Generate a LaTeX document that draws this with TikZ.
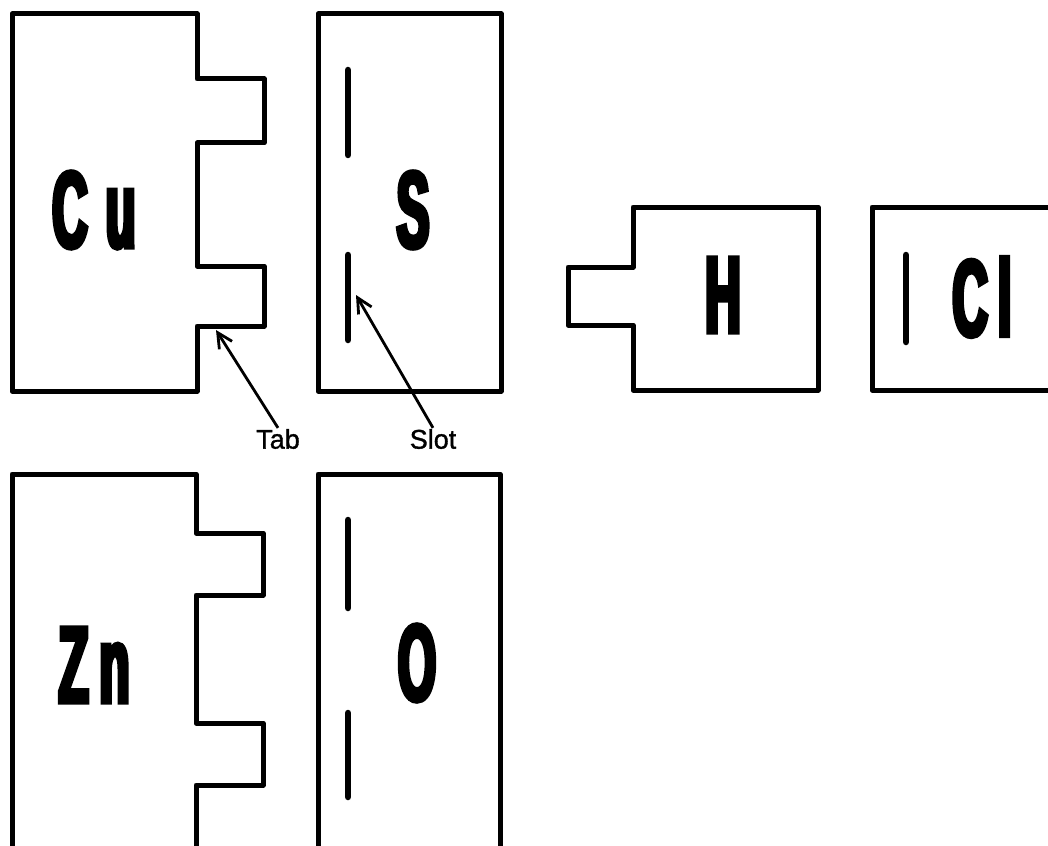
\documentclass[tikz,border=0pt]{standalone}
\usepackage{fontspec}
\usetikzlibrary{arrows.meta}
\newfontfamily\elemfont[FakeStretch=0.45,BoldFeatures={FakeBold=4}]{Liberation Sans}
\newfontfamily\notefont[FakeBold=1.2]{Liberation Sans}

\begin{document}
\begin{tikzpicture}[
  x=1pt, y=-1pt,
  piece/.style={line width=5pt, line join=round},
  slotbar/.style={line width=6.5pt, line cap=round},
  element/.style={font=\elemfont\bfseries\fontsize{109}{109}\selectfont, inner sep=0pt},
  note/.style={font=\notefont\fontsize{27}{27}\selectfont, inner sep=1pt},
  pointer/.style={-{Straight Barb[length=15pt,width=15pt]}, line width=2.8pt},
]
\useasboundingbox (0,0) rectangle (1048,845);
\clip (0,0) rectangle (1048,845);

% copper card with two tabs
\draw[piece] (12,14) -- (197,14) -- (197,79) -- (264,79) -- (264,143) -- (197,143)
  -- (197,266) -- (264,266) -- (264,326) -- (197,326) -- (197,391) -- (12,391) -- cycle;
\node[element] (cu) at (94,210) {C\hspace{18pt}u};

% sulphur card with two slots
\draw[piece] (318,14) rectangle (501,391);
\draw[slotbar] (348,70) -- (348,155);
\draw[slotbar] (348,255) -- (348,340);
\node[element] (s) at (413,210) {S};

% hydrogen card, one tab
\draw[piece] (633,207) -- (818,207) -- (818,390) -- (633,390) -- (633,325)
  -- (568,325) -- (568,267) -- (633,267) -- cycle;
\node[element] (h) at (723,295) {H};

% chlorine card, one slot
\draw[piece] (1060,207) -- (872,207) -- (872,390) -- (1060,390);
\draw[slotbar] (906,255) -- (906,342);
\node[element] (cl) at (982,297) {C\hspace{10pt}l};

% zinc card
\draw[piece] (12,900) -- (12,474) -- (196,474) -- (196,533) -- (263,533) -- (263,595)
  -- (196,595) -- (196,723) -- (263,723) -- (263,785) -- (196,785) -- (196,900);
\node[element] (zn) at (94,665) {Z\hspace{11pt}n};

% oxygen card
\draw[piece] (318,900) -- (318,474) -- (500,474) -- (500,900);
\draw[slotbar] (348,520) -- (348,608);
\draw[slotbar] (348,713) -- (348,797);
\node[element] (o) at (417,663) {O};

% labels
\coordinate (tabtip) at (216,330);
\coordinate (slottip) at (356,295);
\node[note] (tablbl) at (278,439) {Tab};
\node[note] (slotlbl) at (433,439) {Slot};
\draw[pointer] (tablbl.north) -- (tabtip);
\draw[pointer] (slotlbl.north) -- (slottip);
\end{tikzpicture}
\end{document}
